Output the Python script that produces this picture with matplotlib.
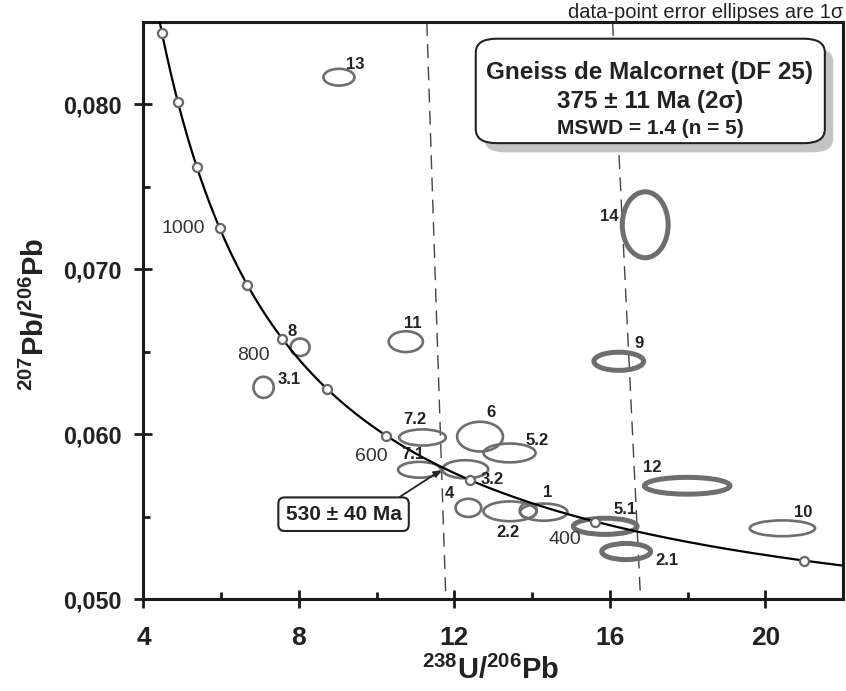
import numpy as np
import matplotlib.pyplot as plt
from matplotlib.patches import Ellipse, FancyBboxPatch

plt.rcParams['font.family'] = ['Liberation Sans', 'DejaVu Sans']
plt.rcParams['mathtext.fontset'] = 'custom'
plt.rcParams['mathtext.rm'] = 'Liberation Sans'
plt.rcParams['mathtext.bf'] = 'Liberation Sans:bold'

# concordia marker ages (Ma) and labelled ones
marker_ages = [300, 400, 500, 600, 700, 800, 900, 1000, 1100, 1200, 1300]
age_labels = ['1000', '800', '600', '400']
age_label_x = [5.02, 6.84, 9.87, 14.83]
age_label_y = [0.0725, 0.06476, 0.05866, 0.0536]

# analyses: 238U/206Pb, 207Pb/206Pb, 1 sigma half axes
spot_names = ['13', '8', '3.1', '11', '7.2', '7.1', '3.2', '6', '5.2', '4',
              '2.2', '', '1', '5.1', '2.1', '12', '10', '9', '14']
spot_x = [9.03, 8.03, 7.09, 10.75, 11.18, 11.10, 12.28, 12.66, 13.42, 12.36,
          13.43, 13.90, 14.30, 15.88, 16.42, 17.99, 20.44, 16.23, 16.91]
spot_y = [0.08165, 0.06527, 0.06284, 0.06561, 0.0598, 0.05784, 0.05787, 0.05985,
          0.05886, 0.05553, 0.05532, 0.05537, 0.05527, 0.05441, 0.05288, 0.05687,
          0.05429, 0.06442, 0.0727]
spot_sx = [0.40, 0.245, 0.26, 0.44, 0.60, 0.55, 0.59, 0.59, 0.67, 0.33,
           0.68, 0.22, 0.61, 0.82, 0.63, 1.10, 0.84, 0.64, 0.59]
spot_sy = [0.00051, 0.00053, 0.00064, 0.00063, 0.00049, 0.00048, 0.00055, 0.0009,
           0.00057, 0.00055, 0.0006, 0.00045, 0.00052, 0.00049, 0.00049, 0.00051,
           0.00048, 0.00055, 0.0020]
in_age = [0, 0, 0, 0, 0, 0, 0, 0, 0, 0, 0, 0, 0, 1, 1, 1, 0, 1, 1]

# label positions for the spots
lab_x = [9.44, 7.82, 7.76, 10.93, 10.98, 10.93, 12.98, 12.93, 14.12, 11.88,
         13.37, None, 14.40, 16.38, 17.48, 17.10, 20.98, 16.76, 15.99]
lab_y = [0.08244, 0.06622, 0.06329, 0.06671, 0.06091, 0.05878, 0.05726, 0.06134,
         0.05963, 0.0564, 0.05402, None, 0.05646, 0.05543, 0.05232, 0.05799,
         0.05524, 0.06549, 0.07323]

# dashed reference lines
dash_x = [[11.29, 11.78], [16.07, 16.79]]
dash_y = [0.085, 0.050]

l238 = 1.55125e-10
l235 = 9.8485e-10
u_ratio = 137.88


def concordia(t_ma):
    t = np.asarray(t_ma) * 1e6
    e8 = np.exp(l238 * t) - 1
    e5 = np.exp(l235 * t) - 1
    return 1 / e8, e5 / e8 / u_ratio


fig = plt.figure(figsize=(8.46, 6.91), dpi=100)
ax = fig.add_axes([0.1696, 0.1331, 0.9965 - 0.1696, 0.9682 - 0.1331])
ax.set_xlim(4, 22)
ax.set_ylim(0.050, 0.085)

grey = '#6e6e6e'
for i in range(len(spot_x)):
    e = Ellipse((spot_x[i], spot_y[i]), 2 * spot_sx[i], 2 * spot_sy[i],
                fill=False, ec=grey, lw=3.6 if in_age[i] else 1.9, zorder=2)
    ax.add_patch(e)
    if spot_names[i]:
        ax.text(lab_x[i], lab_y[i], spot_names[i], fontsize=12, fontweight='bold',
                color='#222222', ha='center', va='center', zorder=5)

for xs in dash_x:
    ax.plot(xs, dash_y, color='#444444', lw=1.0, dashes=(10, 6), zorder=1)

tt = np.linspace(270, 1400, 800)
cx, cy = concordia(tt)
ax.plot(cx, cy, color='black', lw=1.6, zorder=3)
mx, my = concordia(marker_ages)
ax.plot(mx, my, 'o', ms=6.5, mfc='white', mec='#666666', mew=1.6, zorder=4)

for s, x, y in zip(age_labels, age_label_x, age_label_y):
    ax.text(x, y, s, fontsize=14, color='#333333', ha='center', va='center', zorder=5)

# result box with shadow
shadow = FancyBboxPatch((0.487, 0.774), 0.499, 0.181, boxstyle='round,pad=0,rounding_size=0.03',
                        transform=ax.transAxes, fc='#c4c4c4', ec='none', zorder=6,
                        mutation_aspect=0.8)
ax.add_patch(shadow)
box = FancyBboxPatch((0.475, 0.790), 0.499, 0.181, boxstyle='round,pad=0,rounding_size=0.03',
                     transform=ax.transAxes, fc='white', ec='#222222', lw=1.5, zorder=7,
                     mutation_aspect=0.8)
ax.add_patch(box)
ax.text(0.724, 0.913, 'Gneiss de Malcornet (DF 25)', transform=ax.transAxes, fontsize=17.5,
        fontweight='bold', ha='center', va='center', color='#222222', zorder=8)
ax.text(0.724, 0.862, '375 ± 11 Ma (2σ)', transform=ax.transAxes, fontsize=17.5,
        fontweight='bold', ha='center', va='center', color='#222222', zorder=8)
ax.text(0.724, 0.816, 'MSWD = 1.4 (n = 5)', transform=ax.transAxes, fontsize=15,
        fontweight='bold', ha='center', va='center', color='#222222', zorder=8)

fig.text(0.9965, 0.982, 'data-point error ellipses are 1σ', fontsize=14.5, ha='right',
         va='center', color='#222222')

ax.annotate('530 ± 40 Ma', xy=(11.65, 0.0578), xytext=(0.286, 0.147),
            textcoords='axes fraction', fontsize=15, fontweight='bold', color='#222222',
            ha='center', va='center', zorder=8,
            bbox=dict(boxstyle='round,pad=0.35,rounding_size=0.3', fc='white', ec='#222222', lw=1.5),
            arrowprops=dict(arrowstyle='-|>', color='#222222', lw=1.3, mutation_scale=10,
                            relpos=(0.88, 1.0), shrinkA=0, shrinkB=0))

ax.set_xticks([4, 8, 12, 16, 20])
ax.set_xticks([6, 10, 14, 18], minor=True)
ax.set_yticks([0.050, 0.060, 0.070, 0.080])
ax.set_yticks([0.055, 0.065, 0.075], minor=True)
ax.set_yticklabels(['0,050', '0,060', '0,070', '0,080'])
for sp in ax.spines.values():
    sp.set_linewidth(2.2)
    sp.set_color('#1a1a1a')
ax.tick_params(which='major', direction='inout', length=13, width=2, color='#1a1a1a')
ax.tick_params(which='minor', direction='in', length=5, width=2, color='#1a1a1a')
ax.tick_params(axis='x', which='major', pad=13)
ax.tick_params(axis='y', which='major', pad=9.5)
for lab in ax.get_xticklabels():
    lab.set_fontweight('bold')
    lab.set_fontsize(19)
    lab.set_color('#222222')
for lab in ax.get_yticklabels():
    lab.set_fontweight('bold')
    lab.set_fontsize(16.8)
    lab.set_color('#222222')

fig.text(0.58, 0.03, r'$\mathbf{^{238}U/^{206}Pb}$', fontsize=21, ha='center', va='center',
         color='#222222')
fig.text(0.042, 0.545, r'$\mathbf{^{207}Pb/^{206}Pb}$', fontsize=21, ha='center', va='center',
         rotation=90, color='#222222')

fig.savefig('out.png', dpi=100)
